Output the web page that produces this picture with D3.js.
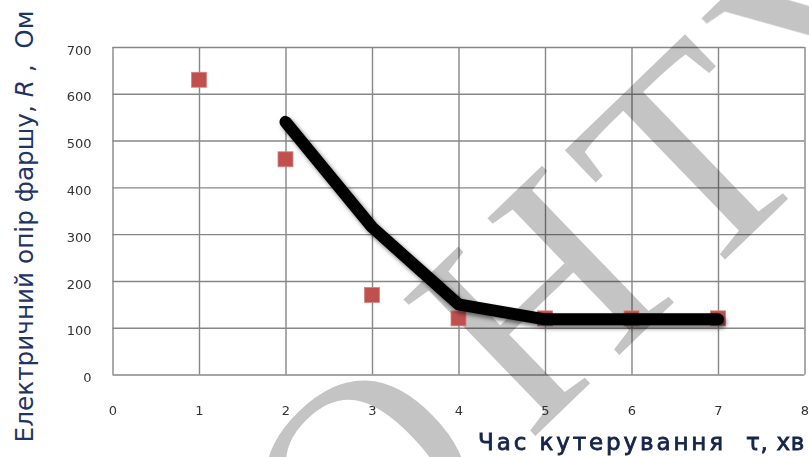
<!DOCTYPE html>
<html>
<head>
<meta charset="utf-8">
<script src="https://cdn.jsdelivr.net/npm/d3@7"></script>
<style>
  html, body { margin: 0; padding: 0; background: #fff; }
  svg { display: block; }
</style>
</head>
<body>
<svg id="chart" width="809" height="457"></svg>
<script>
// Measured resistance of minced meat vs. cutting time
const measuredTime = [1, 2, 3, 4, 5, 6, 7];
const measuredR    = [630, 460, 170, 120, 120, 120, 120];

// Trend line
const trendTime = [2, 3, 4, 5, 6, 7];
const trendR    = [540, 315, 150, 118, 118, 118];

const xTicks = [0, 1, 2, 3, 4, 5, 6, 7, 8];
const yTicks = [0, 100, 200, 300, 400, 500, 600, 700];

const yTitleMain = "Електричний опір фаршу, ";
const yTitleVar = "R";
const yTitleUnit = " ,  Ом";
const xTitleMain = "Час кутерування";
const xTitleUnit = "τ, хв";

// Background lettering: one glyph per anchor
const markLetters = ["О", "Н", "Т", "У"];
const markCenters = [[366, 480], [538, 300], [690, 160], [834, 21]];

const svg = d3.select("#chart");
const plot = { left: 112.5, right: 804.5, top: 47, bottom: 374.5 };

const x = d3.scaleLinear().domain([0, 8]).range([plot.left, plot.right]);
const y = d3.scaleLinear().domain([0, 700]).range([plot.bottom, plot.top]);

const defs = svg.append("defs");
const shadow = defs.append("filter").attr("id", "lineShadow")
  .attr("x", "-10%").attr("y", "-10%").attr("width", "130%").attr("height", "130%");
shadow.append("feDropShadow")
  .attr("dx", 2.5).attr("dy", 3).attr("stdDeviation", 2.2)
  .attr("flood-color", "#000").attr("flood-opacity", 0.55);
defs.append("filter").attr("id", "soft")
  .append("feGaussianBlur").attr("stdDeviation", 0.6);
defs.append("clipPath").attr("id", "page")
  .append("rect").attr("width", 809).attr("height", 457);

const mark = svg.append("g").attr("clip-path", "url(#page)").attr("filter", "url(#soft)");
mark.selectAll("text")
  .data(markLetters.map((ch, i) => ({ ch, c: markCenters[i] })))
  .join("text")
  .attr("transform", d => `translate(${d.c[0]},${d.c[1]}) rotate(-44)`)
  .attr("x", 0).attr("y", 96)
  .attr("text-anchor", "middle")
  .style("font-family", "'Liberation Serif', 'DejaVu Serif', serif")
  .style("font-size", "290px")
  .attr("fill", "#c4c4c4")
  .text(d => d.ch);

// Gridlines drawn through the library axes
const grid = svg.append("g").style("mix-blend-mode", "multiply");
grid.append("g")
  .attr("transform", `translate(0,${plot.top})`)
  .call(d3.axisBottom(x).tickValues(xTicks).tickSize(plot.bottom - plot.top).tickFormat(""))
  .call(g => g.select(".domain").remove())
  .call(g => g.selectAll("line").attr("stroke", "#878787").attr("stroke-width", 1.4));
grid.append("g")
  .attr("transform", `translate(${plot.left},0)`)
  .call(d3.axisRight(y).tickValues(yTicks).tickSize(plot.right - plot.left).tickFormat(""))
  .call(g => g.select(".domain").remove())
  .call(g => g.selectAll("line").attr("stroke", "#878787").attr("stroke-width", 1.4));

// Tick labels
const tickFont = "'DejaVu Sans', 'Liberation Sans', sans-serif";
const xAxis = svg.append("g")
  .attr("transform", `translate(0,${plot.bottom})`)
  .call(d3.axisBottom(x).tickValues(xTicks).tickSize(0).tickPadding(31))
  .call(g => g.select(".domain").remove());
xAxis.selectAll("text")
  .style("font-family", tickFont).style("font-size", "13px").attr("fill", "#333");

const yAxis = svg.append("g")
  .attr("transform", `translate(${plot.left},0)`)
  .call(d3.axisLeft(y).tickValues(yTicks).tickSize(0).tickPadding(21))
  .call(g => g.select(".domain").remove());
yAxis.selectAll("text")
  .attr("dy", "0.55em")
  .style("font-family", tickFont).style("font-size", "13px").attr("fill", "#333");

// Measured points
const sq = 15;
svg.append("g").selectAll("rect")
  .data(measuredTime.map((t, i) => ({ t, r: measuredR[i] })))
  .join("rect")
  .attr("x", d => x(d.t) - sq / 2)
  .attr("y", d => y(d.r) - sq / 2)
  .attr("width", sq).attr("height", sq)
  .attr("fill", "#c0504d")
  .attr("stroke", "#d8827f").attr("stroke-width", 0.8);

// Trend line
const line = d3.line().x(d => x(d.t)).y(d => y(d.r));
svg.append("path")
  .datum(trendTime.map((t, i) => ({ t, r: trendR[i] })))
  .attr("d", line)
  .attr("fill", "none")
  .attr("stroke", "#000")
  .attr("stroke-width", 12)
  .attr("stroke-linecap", "round")
  .attr("stroke-linejoin", "round")
  .attr("filter", "url(#lineShadow)");

// Axis titles
const titleFont = "'DejaVu Sans', 'Liberation Sans', sans-serif";
function fitFont(sel, base, span) {
  sel.style("font-size", base + "px");
  const len = sel.node().getComputedTextLength();
  sel.style("font-size", (base * span / len).toFixed(2) + "px");
}
// keep the font size, spread the letters to fill the span
function fitSpacing(sel, size, span) {
  sel.style("font-size", size + "px").style("letter-spacing", "0px");
  const len = sel.node().getComputedTextLength();
  const n = sel.text().length;
  sel.style("letter-spacing", ((span - len) / n).toFixed(2) + "px");
}

const yt = svg.append("text")
  .attr("transform", "translate(33,226.5) rotate(-90)")
  .attr("text-anchor", "middle")
  .style("font-family", titleFont)
  .style("white-space", "pre")
  .attr("fill", "#1d3464");
yt.append("tspan").text(yTitleMain);
yt.append("tspan").style("font-style", "italic").text(yTitleVar);
yt.append("tspan").text(yTitleUnit);
fitFont(yt, 22, 432);

const xtStyle = sel => sel
  .attr("y", 450)
  .style("font-family", titleFont)
  .attr("fill", "#14244a")
  .attr("stroke", "#14244a").attr("stroke-width", 0.8);
const xtMain = svg.append("text").call(xtStyle)
  .attr("x", 478).text(xTitleMain);
fitSpacing(xtMain, 23, 248);
const xtUnit = svg.append("text").call(xtStyle)
  .attr("x", 746).text(xTitleUnit);
fitSpacing(xtUnit, 23, 59);
</script>
</body>
</html>
